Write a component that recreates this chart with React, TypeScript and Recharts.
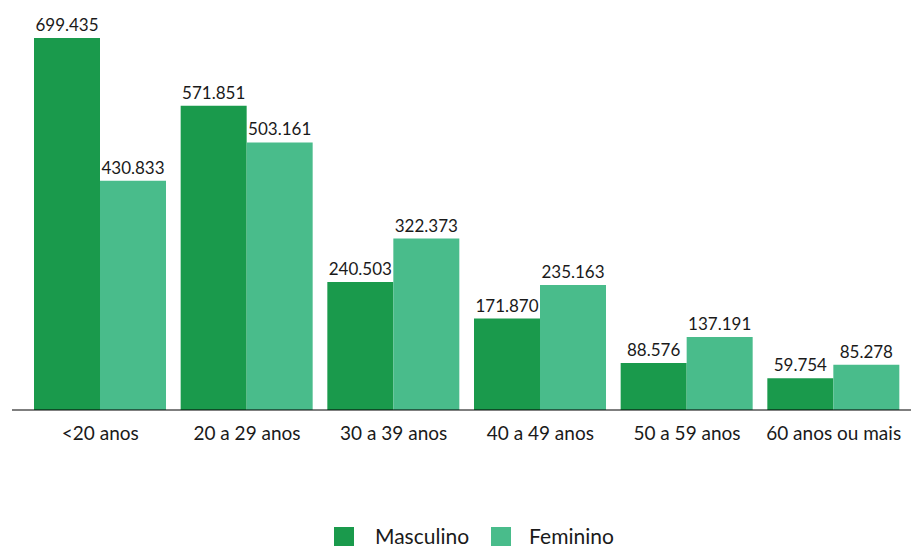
import React from "react";
import { BarChart, Bar, XAxis, YAxis, LabelList, Legend } from "recharts";

const faixas = ["<20 anos", "20 a 29 anos", "30 a 39 anos", "40 a 49 anos", "50 a 59 anos", "60 anos ou mais"];
const masculino = [699435, 571851, 240503, 171870, 88576, 59754];
const feminino = [430833, 503161, 322373, 235163, 137191, 85278];

const COR_MASC = "#1a9a4c";
const COR_FEM = "#49bc8b";
const FONT = "Lato, 'Open Sans', sans-serif";

const data = faixas.map((faixa, i) => ({
  faixa,
  masculino: masculino[i],
  feminino: feminino[i],
}));

const fmt = (v: unknown) => Number(v).toLocaleString("pt-BR");

const LegendaCustom = () => (
  <div style={{ display: "flex", alignItems: "center", fontFamily: FONT, fontSize: 21, lineHeight: "22px", color: "#1a1a1a", paddingLeft: 334 }}>
    <span style={{ width: 20, height: 19, background: COR_MASC, display: "inline-block", marginRight: 21 }} />
    <span style={{ marginRight: 22 }}>Masculino</span>
    <span style={{ width: 20, height: 19, background: COR_FEM, display: "inline-block", marginRight: 18 }} />
    <span>Feminino</span>
  </div>
);

export default function App() {
  return (
    <div style={{ position: "absolute", left: 0, top: 0, background: "#fff" }}>
      <BarChart
        width={911}
        height={547}
        data={data}
        barGap={0}
        barSize={66}
        margin={{ top: 38, right: 0, left: 12, bottom: 0 }}
      >
        <XAxis
          dataKey="faixa"
          height={115}
          padding={{ left: 15, right: 4 }}
          tickLine={false}
          axisLine={{ stroke: "#000", strokeWidth: 1.2 }}
          tick={{ fill: "#1a1a1a", fontSize: 19, fontFamily: FONT, dy: 9 }}
          interval={0}
        />
        <YAxis hide domain={[0, 699435]} />
        <Legend
          verticalAlign="bottom"
          height={30}
          wrapperStyle={{ top: 525, left: 0, width: 911, height: 22 }}
          content={<LegendaCustom />}
        />
        <Bar dataKey="masculino" name="Masculino" fill={COR_MASC} isAnimationActive={false}>
          <LabelList dataKey="masculino" position="top" offset={7} formatter={fmt} fill="#1a1a1a" fontSize={17} fontFamily={FONT} />
        </Bar>
        <Bar dataKey="feminino" name="Feminino" fill={COR_FEM} isAnimationActive={false}>
          <LabelList dataKey="feminino" position="top" offset={7} formatter={fmt} fill="#1a1a1a" fontSize={17} fontFamily={FONT} />
        </Bar>
      </BarChart>
    </div>
  );
}
